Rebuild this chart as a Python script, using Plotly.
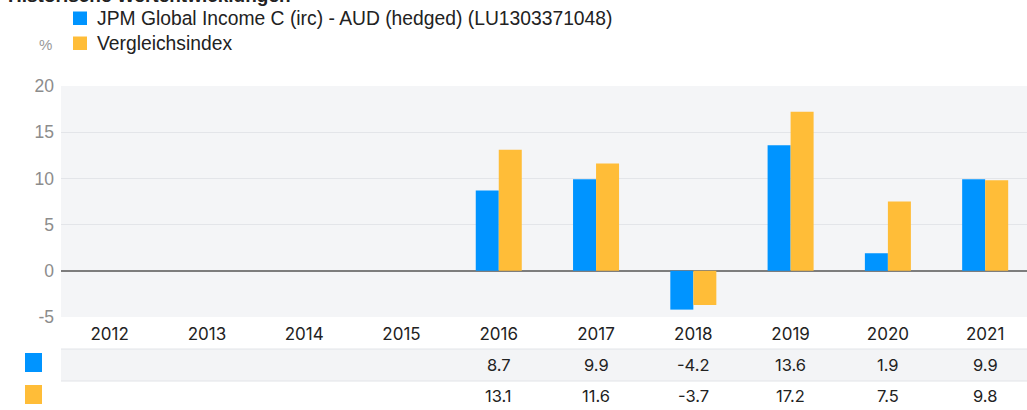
import plotly.graph_objects as go

years = ["2012", "2013", "2014", "2015", "2016", "2017", "2018", "2019", "2020", "2021"]
fund = [None, None, None, None, 8.7, 9.9, -4.2, 13.6, 1.9, 9.9]
bench = [None, None, None, None, 13.1, 11.6, -3.7, 17.2, 7.5, 9.8]
y_ticks = [-5, 0, 5, 10, 15, 20]
y_tick_text = ["-5", "0", "5", "10", "15", "20"]
fund_name = "JPM Global Income C (irc) - AUD (hedged) (LU1303371048)"
bench_name = "Vergleichsindex"
title = "Historische Wertentwicklungen"

BLUE = "#0094ff"
YELLOW = "#ffbd38"
W, H = 1027, 410
ML, MR, MT, MB = 61, 0, 86, 93
PW, PH = W - ML - MR, H - MT - MB
FONT = "Inter, Roboto, sans-serif"
LFONT = "Liberation Sans, Arial, Helvetica, sans-serif"


def px(xp):
    return (xp - ML) / PW


def py(yp):
    return (H - MB - yp) / PH


fig = go.Figure()
fig.add_trace(go.Bar(x=years, y=fund, name=fund_name, marker_color=BLUE, marker_line_width=0))
fig.add_trace(go.Bar(x=years, y=bench, name=bench_name, marker_color=YELLOW, marker_line_width=0))

shapes = []
annotations = []

# table row background
shapes.append(dict(type="rect", xref="paper", yref="paper", x0=0, x1=1, y0=py(381), y1=py(349),
                   fillcolor="#f3f4f6", line_width=0, layer="below"))
for yy in (349, 381):
    shapes.append(dict(type="line", xref="paper", yref="paper", x0=0, x1=1, y0=py(yy), y1=py(yy),
                       line=dict(color="#e2e4e8", width=1)))

# row markers
for (y0, y1, c) in ((353, 372, BLUE), (385, 404, YELLOW)):
    shapes.append(dict(type="rect", xref="paper", yref="paper", x0=px(25), x1=px(42), y0=py(y1), y1=py(y0),
                       fillcolor=c, line_width=0))

# legend squares
for (y0, y1, c) in ((11.5, 25, BLUE), (36.5, 50, YELLOW)):
    shapes.append(dict(type="rect", xref="paper", yref="paper", x0=px(73), x1=px(87), y0=py(y1), y1=py(y0),
                       fillcolor=c, line_width=0))

annotations.append(dict(xref="paper", yref="paper", x=px(95), y=py(18.2), text=fund_name, showarrow=False,
                        xanchor="left", yanchor="middle", font=dict(family=LFONT, size=19.3, color="#222")))
annotations.append(dict(xref="paper", yref="paper", x=px(95), y=py(44), text=bench_name, showarrow=False,
                        xanchor="left", yanchor="middle", font=dict(family=LFONT, size=19.3, color="#222")))
annotations.append(dict(xref="paper", yref="paper", x=px(54), y=py(45), text="%", showarrow=False,
                        xanchor="right", yanchor="middle", font=dict(family=LFONT, size=15, color="#999")))
annotations.append(dict(xref="paper", yref="paper", x=px(6), y=py(-4.5), text="<b>" + title + "</b>", showarrow=False,
                        xanchor="left", yanchor="middle", font=dict(family=LFONT, size=19, color="#222")))

# table values
for row_y, series in ((365, fund), (396, bench)):
    for i, v in enumerate(series):
        if v is None:
            continue
        annotations.append(dict(xref="paper", yref="paper", x=(i + 0.5) / 9.93, y=py(row_y), text=f"{v:.1f}",
                                showarrow=False, xanchor="center", yanchor="middle",
                                font=dict(family=FONT, size=16.5, color="#222")))

fig.update_layout(
    width=W, height=H,
    margin=dict(l=ML, r=MR, t=MT, b=MB, pad=0),
    paper_bgcolor="white", plot_bgcolor="#f4f5f7",
    barmode="group", bargap=0.527, bargroupgap=0,
    showlegend=False,
    shapes=shapes, annotations=annotations,
    font=dict(family=FONT),
)
fig.update_xaxes(type="category", range=[-0.5, 9.43], showgrid=False, ticks="", showline=False,
                 tickfont=dict(family=FONT, size=17, color="#222"), ticklabelstandoff=5, fixedrange=True)
fig.update_yaxes(range=[-5, 20], tickvals=y_ticks, ticktext=y_tick_text, gridcolor="#e3e5e9", gridwidth=1,
                 zeroline=True, zerolinecolor="#7d7d7d", zerolinewidth=1.5, showline=False,
                 tickfont=dict(family=LFONT, size=17.5, color="#8c8c8c"), ticks="", ticklabelstandoff=6,
                 fixedrange=True)

fig.write_html("out.html", config={"displayModeBar": False},
               post_script="document.body.style.margin='0';document.body.style.overflow='hidden';")
